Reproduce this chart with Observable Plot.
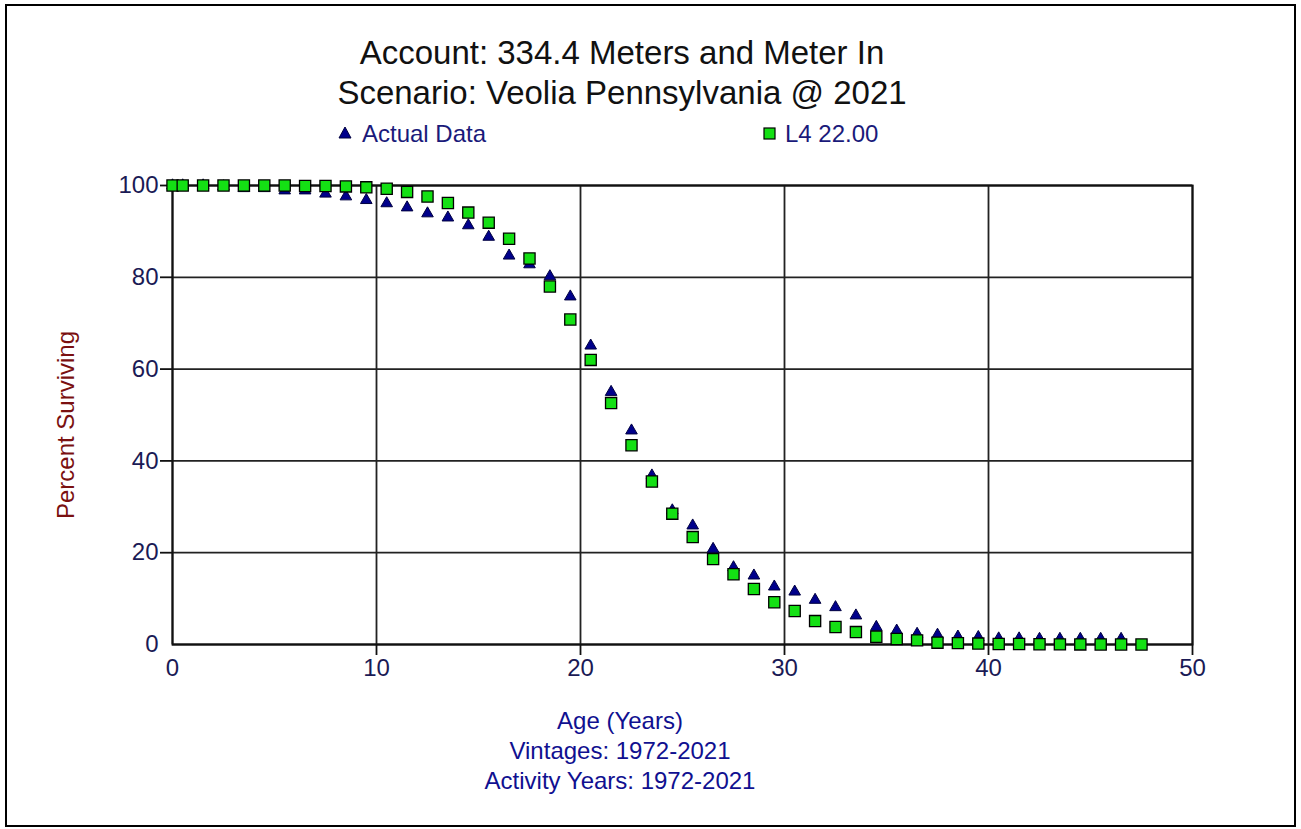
<!DOCTYPE html>
<html>
<head>
<meta charset="utf-8">
<script src="https://cdn.jsdelivr.net/npm/d3@7"></script>
<script src="https://cdn.jsdelivr.net/npm/@observablehq/plot@0.6"></script>
<style>
  html, body { margin: 0; padding: 0; background: #fff; }
  body { width: 1301px; height: 829px; position: relative; overflow: hidden;
         font-family: "Liberation Sans", Arial, sans-serif; }
  #border { position: absolute; left: 5px; top: 4px; width: 1287px; height: 819px;
            border: 2px solid #000; box-sizing: content-box; }
  .t { position: absolute; white-space: nowrap; line-height: 1; }
  .title { left: 0; width: 1244px; text-align: center; font-size: 33px; color: #111; }
  .leg { font-size: 24px; color: #1a1a7a; }
  .cap { left: 0; width: 1240px; text-align: center; font-size: 24px; color: #101090; }
  #ylab { left: 66px; top: 425px; font-size: 24px; color: #7a1010;
          transform: translate(-50%, -50%) rotate(-90deg); }
  #chart { position: absolute; left: 0; top: 140px; }
</style>
</head>
<body>
<div id="border"></div>
<div class="t title" style="top:36px">Account: 334.4 Meters and Meter In</div>
<div class="t title" style="top:76px">Scenario: Veolia Pennsylvania @ 2021</div>
<svg class="t" style="left:337px;top:125px" width="16" height="16"><path d="M8,2 L14,13 L2,13 Z" fill="#00008b" stroke="#000040" stroke-width="1"/></svg>
<div class="t leg" style="left:362px;top:122px">Actual Data</div>
<svg class="t" style="left:762px;top:126px" width="16" height="16"><rect x="2" y="2" width="11" height="11" fill="#14e014" stroke="#000" stroke-width="1.2"/></svg>
<div class="t leg" style="left:785px;top:122px">L4 22.00</div>
<div class="t" id="ylab">Percent Surviving</div>
<div id="chart"></div>
<div class="t cap" style="top:709px">Age (Years)</div>
<div class="t cap" style="top:739px">Vintages: 1972-2021</div>
<div class="t cap" style="top:769px">Activity Years: 1972-2021</div>
<script>
// Observed survivor curve (percent surviving by age)
const actualAges = [0, 0.5, 1.5, 2.5, 3.5, 4.5, 5.5, 6.5, 7.5, 8.5, 9.5, 10.5, 11.5, 12.5, 13.5, 14.5,
  15.5, 16.5, 17.5, 18.5, 19.5, 20.5, 21.5, 22.5, 23.5, 24.5, 25.5, 26.5, 27.5, 28.5, 29.5, 30.5,
  31.5, 32.5, 33.5, 34.5, 35.5, 36.5, 37.5, 38.5, 39.5, 40.5, 41.5, 42.5, 43.5, 44.5, 45.5, 46.5];
const actualPct = [100, 100, 100, 99.8, 99.4, 99.4, 98.9, 98.9, 98.2, 97.6, 96.8, 96.1, 95.2, 93.9, 93.0, 91.3,
  88.8, 84.7, 82.8, 80.2, 75.8, 65.1, 55.0, 46.6, 36.8, 29.2, 25.9, 20.8, 16.8, 15.0, 12.6, 11.5,
  9.7, 8.1, 6.3, 3.8, 3.0, 2.3, 2.1, 1.7, 1.6, 1.3, 1.3, 1.2, 1.2, 1.2, 1.2, 1.2];

// Iowa L4 curve, 22.00-year average life
const fitAges = [0, 0.5, 1.5, 2.5, 3.5, 4.5, 5.5, 6.5, 7.5, 8.5, 9.5, 10.5, 11.5, 12.5, 13.5, 14.5,
  15.5, 16.5, 17.5, 18.5, 19.5, 20.5, 21.5, 22.5, 23.5, 24.5, 25.5, 26.5, 27.5, 28.5, 29.5, 30.5,
  31.5, 32.5, 33.5, 34.5, 35.5, 36.5, 37.5, 38.5, 39.5, 40.5, 41.5, 42.5, 43.5, 44.5, 45.5, 46.5, 47.5];
const fitPct = [100, 100, 100, 100, 100, 100, 100, 99.9, 99.9, 99.8, 99.6, 99.3, 98.6, 97.6, 96.2, 94.1,
  91.9, 88.4, 84.1, 78.0, 70.8, 62.0, 52.6, 43.4, 35.5, 28.5, 23.4, 18.6, 15.3, 12.1, 9.2, 7.3,
  5.1, 3.8, 2.7, 1.7, 1.2, 0.9, 0.4, 0.3, 0.2, 0.1, 0.1, 0.05, 0.03, 0.02, 0.01, 0.01, 0.0];

const xTicks = [0, 10, 20, 30, 40, 50];
const yTicks = [0, 20, 40, 60, 80, 100];

const actual = actualAges.map((a, i) => ({age: a, pct: actualPct[i]}));
const fit = fitAges.map((a, i) => ({age: a, pct: fitPct[i]}));

const tickColor = "#1a1a55";
const chart = Plot.plot({
  width: 1301,
  height: 560,
  marginLeft: 172,
  marginRight: 109,
  marginTop: 45,
  marginBottom: 56,
  style: {fontFamily: "Liberation Sans, Arial, sans-serif", fontSize: "24px", background: "transparent"},
  x: {domain: [0, 50]},
  y: {domain: [0, 100]},
  marks: [
    Plot.gridX(xTicks, {stroke: "#222", strokeOpacity: 1, strokeWidth: 1.8}),
    Plot.gridY(yTicks, {stroke: "#222", strokeOpacity: 1, strokeWidth: 1.8}),
    Plot.frame({stroke: "#111", strokeWidth: 2}),
    Plot.axisY(yTicks.filter(d => d > 0), {tickSize: 12, stroke: "#111", strokeWidth: 1.8, tickFormat: () => "", label: null}),
    Plot.axisY(yTicks, {tickSize: 0, tickPadding: 14, fill: tickColor, label: null}),
    Plot.axisX(xTicks.filter(d => d > 0), {tickSize: 11, stroke: "#111", strokeWidth: 1.8, tickFormat: () => "", label: null}),
    Plot.axisX(xTicks, {tickSize: 0, tickPadding: 14, fill: tickColor, label: null}),
    Plot.dot(actual, {x: "age", y: "pct", symbol: "triangle", r: 4.3, fill: "#00008b", stroke: "#000040", strokeWidth: 1}),
    Plot.dot(fit, {x: "age", y: "pct", symbol: "square", r: 6.3, fill: "#14e014", stroke: "#000", strokeWidth: 1.3})
  ]
});
document.getElementById("chart").appendChild(chart);
</script>
</body>
</html>
